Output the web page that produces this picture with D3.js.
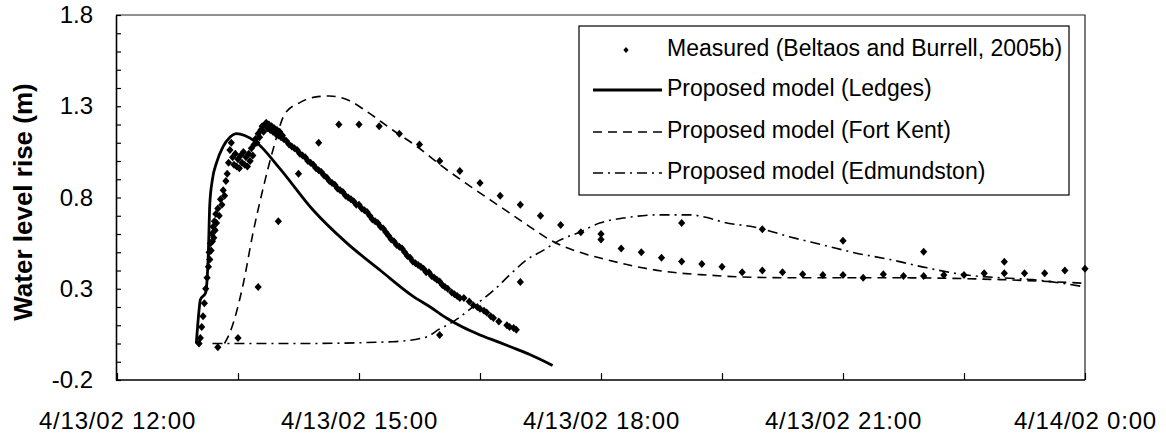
<!DOCTYPE html>
<html>
<head>
<meta charset="utf-8">
<script src="https://cdn.jsdelivr.net/npm/d3@7/dist/d3.min.js"></script>
<style>
  html, body { margin: 0; padding: 0; background: #fff; }
  svg text { font-family: "Liberation Sans", Arial, Helvetica, sans-serif; fill: #000; }
</style>
</head>
<body>
<svg id="chart" width="1166" height="438"></svg>
<script>
// Ice-jam release wave, 13-14 April 2002: water level rise at three gauges.
// Times are clock times on 4/13/02 ("24:00" is midnight of 4/14/02).

// Measured, continuous logger record (dense band)
const loggerTime = [
  "13:01","13:02","13:03","13:04","13:05","13:06","13:07","13:08","13:08:30","13:09",
  "13:09:30","13:10","13:10:30","13:11","13:11:30","13:12","13:12:30","13:13","13:13:30","13:14",
  "13:15","13:16","13:17","13:18","13:19","13:20","13:21","13:22","13:23","13:24",
  "13:25","13:26","13:27","13:28","13:29","13:30","13:31","13:32","13:33","13:34",
  "13:35","13:36","13:37","13:38","13:39","13:40","13:41","13:42","13:43","13:44",
  "13:45","13:46","13:47","13:48","13:49","13:50","13:51","13:52","13:53","13:54",
  "13:55","13:56","13:57","13:58","13:59","14:00","14:01","14:02","14:03","14:04",
  "14:06","14:08","14:10","14:12","14:14","14:16","14:18","14:20","14:22","14:24",
  "14:26","14:28","14:30","14:32","14:34","14:36","14:38","14:40","14:42","14:44",
  "14:46","14:48","14:50","14:52","14:54","14:56","14:58","15:00","15:02","15:04",
  "15:06","15:08","15:10","15:12","15:14","15:16","15:18","15:20","15:22","15:24",
  "15:26","15:28","15:30","15:32","15:34","15:36","15:38","15:40","15:42","15:44",
  "15:46","15:48","15:50","15:52","15:54","15:56","15:58","16:00","16:02","16:04",
  "16:06","16:09","16:11","16:13","16:15","16:18","16:22","16:25","16:28","16:30",
  "16:33","16:35","16:38","16:40","16:44","16:50","16:52","16:55","16:57"
];
const loggerRise = [
  0.00, 0.03, 0.09, 0.15, 0.22, 0.30, 0.36, 0.42, 0.50, 0.46,
  0.55, 0.51, 0.60, 0.56, 0.64, 0.58, 0.67, 0.62, 0.71, 0.66,
  0.74, 0.70, 0.79, 0.76, 0.84, 0.81, 0.89, 0.93, 0.99, 1.06,
  1.10, 1.02, 0.98, 1.04, 0.97, 1.01, 0.96, 1.03, 0.99, 1.05,
  0.98, 1.02, 0.97, 1.04, 1.00, 1.07, 1.03, 1.09, 1.12, 1.10,
  1.15, 1.13, 1.17, 1.19, 1.16, 1.20, 1.21, 1.18, 1.20, 1.17,
  1.19, 1.16, 1.18, 1.15, 1.17, 1.14, 1.16, 1.13, 1.14, 1.12,
  1.11, 1.09, 1.08, 1.07, 1.06, 1.04, 1.03, 1.02, 1.00, 0.99,
  0.98, 0.96, 0.95, 0.94, 0.92, 0.91, 0.89, 0.88, 0.87, 0.85,
  0.84, 0.83, 0.81, 0.80, 0.79, 0.78, 0.76, 0.76, 0.74, 0.73,
  0.72, 0.70, 0.68, 0.67, 0.66, 0.64, 0.63, 0.61, 0.59, 0.57,
  0.56, 0.54, 0.53, 0.52, 0.50, 0.48, 0.47, 0.45, 0.44, 0.43,
  0.42, 0.41, 0.39, 0.39, 0.37, 0.36, 0.35, 0.34, 0.32, 0.31,
  0.30, 0.28, 0.27, 0.26, 0.25, 0.25, 0.23, 0.21, 0.20, 0.19,
  0.18, 0.17, 0.15, 0.14, 0.12, 0.10, 0.09, 0.085, 0.075
];

// Measured, 15-minute readings
const quarterTime = [
  "13:15","13:30","13:45","14:00","14:15","14:30","14:45","15:00","15:15","15:30",
  "15:45","16:00","16:15","16:30","16:45","17:00","17:15","17:30","17:45","18:00",
  "18:15","18:30","18:45","19:00","19:15","19:30","19:45","20:00","20:15","20:30",
  "20:45","21:00","21:15","21:30","21:45","22:00","22:15","22:30","22:45","23:00",
  "23:15","23:30","23:45","24:00"
];
const quarterRise = [
  -0.02, 0.03, 0.31, 0.67, 0.93, 1.10, 1.20, 1.20, 1.19, 1.15,
  1.09, 1.00, 0.945, 0.88, 0.81, 0.76, 0.70, 0.65, 0.61, 0.57,
  0.52, 0.50, 0.47, 0.45, 0.435, 0.42, 0.39, 0.40, 0.39, 0.38,
  0.375, 0.375, 0.36, 0.38, 0.37, 0.37, 0.375, 0.375, 0.385, 0.385,
  0.385, 0.385, 0.40, 0.41
];

// Measured, hourly readings
const hourlyTime = ["16:00","17:00","18:00","19:00","20:00","21:00","22:00","23:00"];
const hourlyRise = [0.047, 0.337, 0.60, 0.66, 0.626, 0.563, 0.503, 0.448];

// Proposed model (Ledges)
const ledgesTime = [
  "12:59","13:01","13:02","13:06","13:08","13:09","13:11","13:14","13:19","13:24",
  "13:29","13:35","13:44","14:01","14:26","14:51","15:16","15:40","15:53","16:05",
  "16:17","16:30","16:43","16:55","17:07","17:24"
];
const ledgesRise = [
  0.00, 0.18, 0.24, 0.28, 0.51, 0.76, 0.90, 0.99, 1.08, 1.13,
  1.15, 1.14, 1.10, 0.96, 0.73, 0.55, 0.40, 0.26, 0.20, 0.14,
  0.09, 0.047, 0.01, -0.025, -0.06, -0.12
];

// Proposed model (Fort Kent)
const fortKentTime = [
  "13:20","13:24","13:34","13:41","13:49","13:56","14:05","14:16","14:27","14:38",
  "14:53","15:06","15:25","15:43","16:02","16:23","16:45","17:05","17:24","17:44",
  "18:04","18:27","18:53","19:19","19:43","20:28","21:43","22:57","24:00"
];
const fortKentRise = [
  0.00, 0.06, 0.33, 0.60, 0.86, 1.06, 1.26, 1.32, 1.35, 1.356,
  1.33, 1.27, 1.17, 1.08, 0.97, 0.86, 0.75, 0.65, 0.56, 0.50,
  0.46, 0.42, 0.39, 0.375, 0.365, 0.36, 0.36, 0.35, 0.33
];

// Proposed model (Edmundston)
const edmundstonTime = [
  "13:11","14:16","15:25","15:50","16:00","16:08","16:15","16:28","16:40","16:52",
  "17:05","17:17","17:29","17:44","17:59","18:19","18:44","19:06","19:19","19:31",
  "19:56","20:20","20:45","21:10","21:35","21:59","22:32","22:57","23:21","24:00"
];
const edmundstonRise = [
  0.00, 0.00, 0.01, 0.035, 0.08, 0.11, 0.145, 0.22, 0.29, 0.375,
  0.46, 0.51, 0.565, 0.61, 0.66, 0.69, 0.705, 0.705, 0.69, 0.665,
  0.635, 0.585, 0.54, 0.495, 0.46, 0.42, 0.375, 0.36, 0.35, 0.31
];

const legendLabels = [
  "Measured (Beltaos and Burrell, 2005b)",
  "Proposed model (Ledges)",
  "Proposed model (Fort Kent)",
  "Proposed model (Edmundston)"
];
const yTitle = "Water level rise (m)";

// ---------------------------------------------------------------------------
function clock(s) {
  const [h, m, sec] = s.split(":").map(Number);
  return new Date(2002, 3, 13, h, m, sec || 0);
}
const pairs = (t, v) => t.map((d, i) => ({ t: clock(d), v: v[i] }));

const svg = d3.select("#chart");
const plotLeft = 116, plotRight = 1085, plotTop = 15, plotBottom = 380;

const x = d3.scaleTime()
  .domain([new Date(2002, 3, 13, 12), new Date(2002, 3, 14, 0)])
  .range([plotLeft + 1, plotRight]);
const y = d3.scaleLinear().domain([-0.2, 1.8]).range([plotBottom, plotTop]);

// plot frame (top and right edges)
svg.append("path")
  .attr("d", `M${plotLeft},${plotTop}H${plotRight}V${plotBottom}`)
  .attr("fill", "none").attr("stroke", "#222").attr("stroke-width", 1.2);

// x axis: ticks every 90 minutes, labels every 3 hours
const xTicks = d3.range(0, 9).map(i => new Date(2002, 3, 13, 12, i * 90));
const fmtX = d3.timeFormat("%-m/%-d/%y %-H:%M");
const gx = svg.append("g").attr("transform", `translate(0,${plotBottom})`)
  .call(d3.axisBottom(x).tickValues(xTicks).tickSizeInner(-7).tickSizeOuter(0)
    .tickPadding(32)
    .tickFormat(d => (d.getHours() % 3 === 0 && d.getMinutes() === 0) ? fmtX(d) : ""));
gx.select(".domain").attr("stroke", "#000").attr("stroke-width", 1.6)
  .attr("d", `M${plotLeft},0H${plotRight}`);
gx.selectAll(".tick line").attr("stroke", "#000").attr("stroke-width", 1.2);
gx.selectAll("text").attr("font-size", 24).attr("letter-spacing", 0.8);

// y axis: ticks every 0.1, labels every 0.5 from -0.2
const yTicks = d3.range(-2, 19).map(i => i / 10);
const gy = svg.append("g").attr("transform", `translate(${plotLeft},0)`)
  .call(d3.axisLeft(y).tickValues(yTicks).tickSizeInner(-5).tickSizeOuter(0)
    .tickPadding(23)
    .tickFormat(d => ((Math.round(d * 10) + 2) % 5 === 0) ? d.toFixed(1) : ""));
gy.select(".domain").attr("stroke", "#000").attr("stroke-width", 1.6);
gy.selectAll(".tick line").attr("stroke", "#000").attr("stroke-width", 1.2);
gy.selectAll("text").attr("font-size", 24);

svg.append("text")
  .attr("transform", "translate(23,202) rotate(-90)")
  .attr("text-anchor", "middle").attr("dominant-baseline", "central")
  .attr("font-size", 26).attr("font-weight", "bold")
  .text(yTitle);

// model curves
const line = d3.line().x(d => x(d.t)).y(d => y(d.v)).curve(d3.curveMonotoneX);
const models = [
  { data: pairs(ledgesTime, ledgesRise), width: 2.8, dash: null },
  { data: pairs(fortKentTime, fortKentRise), width: 1.6, dash: "9,6" },
  { data: pairs(edmundstonTime, edmundstonRise), width: 1.6, dash: "10,5,2,5" }
];
models.forEach(m => {
  svg.append("path").datum(m.data)
    .attr("d", line)
    .attr("fill", "none").attr("stroke", "#000")
    .attr("stroke-width", m.width)
    .attr("stroke-dasharray", m.dash);
});

// measured points as diamonds
const diamond = (w, h) => `M0,${-h}L${w},0L0,${h}L${-w},0Z`;
const measured = pairs(loggerTime, loggerRise)
  .concat(pairs(quarterTime, quarterRise))
  .concat(pairs(hourlyTime, hourlyRise));
svg.append("g").selectAll("path").data(measured).join("path")
  .attr("transform", d => `translate(${x(d.t)},${y(d.v)})`)
  .attr("d", diamond(3.6, 4))
  .attr("fill", "#000");

// legend
const lg = svg.append("g");
lg.append("rect").attr("x", 579).attr("y", 26).attr("width", 490).attr("height", 169)
  .attr("fill", "#fff").attr("stroke", "#000").attr("stroke-width", 1.2);
const rowY = [50, 90, 132, 173];
legendLabels.forEach((lab, i) => {
  lg.append("text").attr("x", 667).attr("y", rowY[i] + 6)
    .attr("font-size", 23).text(lab);
});
lg.append("path").attr("transform", `translate(626,${rowY[0]})`)
  .attr("d", diamond(2.6, 3)).attr("fill", "#000");
models.forEach((m, i) => {
  lg.append("line").attr("x1", 593).attr("x2", 662)
    .attr("y1", rowY[i + 1]).attr("y2", rowY[i + 1])
    .attr("stroke", "#000").attr("stroke-width", m.width)
    .attr("stroke-dasharray", m.dash);
});
</script>
</body>
</html>
